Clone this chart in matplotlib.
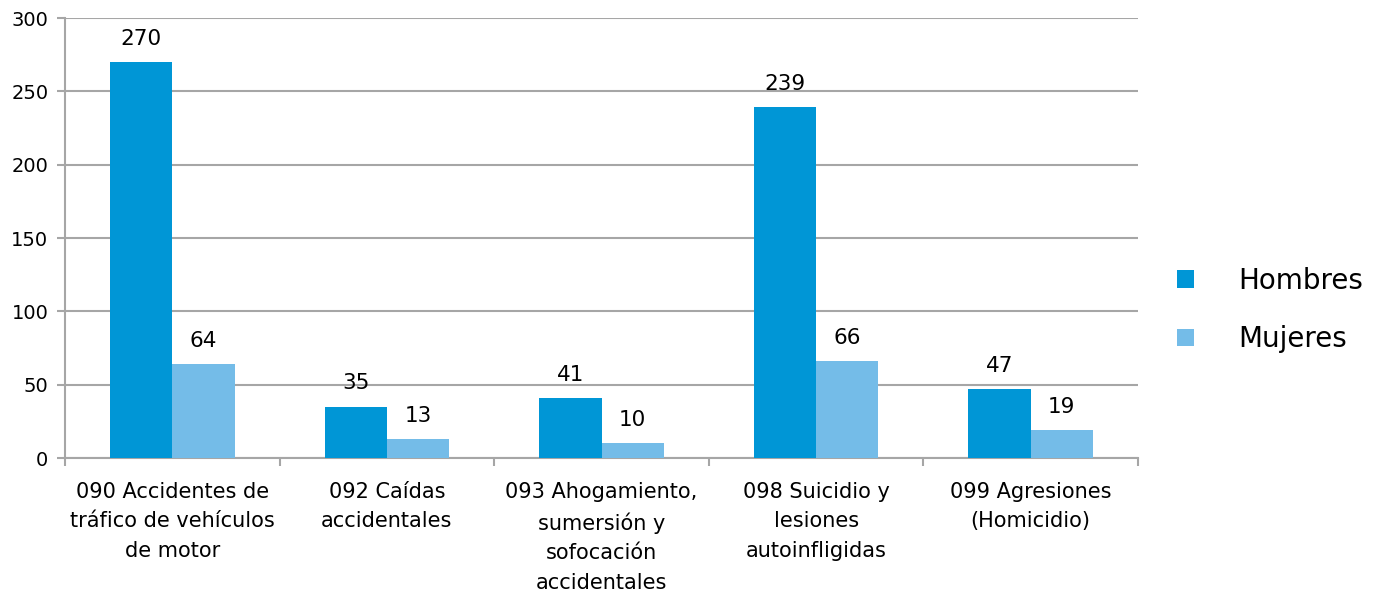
import numpy as np
import matplotlib.pyplot as plt

categories = ['090 Accidentes de\ntráfico de vehículos\nde motor',
              '092 Caídas\naccidentales',
              '093 Ahogamiento,\nsumersión y\nsofocación\naccidentales',
              '098 Suicidio y\nlesiones\nautoinfligidas',
              '099 Agresiones\n(Homicidio)']
hombres = [270, 35, 41, 239, 47]
mujeres = [64, 13, 10, 66, 19]
yticks = [0, 50, 100, 150, 200, 250, 300]

c_h = '#0096D6'
c_m = '#74BCE8'
grid_c = '#A6A6A6'

plt.rcParams['font.family'] = ['DejaVu Sans']

fig = plt.figure(figsize=(13.79, 5.98), dpi=100)
ax = fig.add_axes([65 / 1379, 1 - 458 / 598, (1138 - 65) / 1379, 440 / 598])

x = np.arange(len(categories))
w = 0.29
ax.bar(x - w / 2, hombres, w, color=c_h, label='Hombres', zorder=3)
ax.bar(x + w / 2, mujeres, w, color=c_m, label='Mujeres', zorder=3)

for xi, v in zip(x, hombres):
    ax.text(xi - w / 2, v + 9, str(v), ha='center', va='bottom', fontsize=15.5)
for xi, v in zip(x, mujeres):
    ax.text(xi + w / 2, v + 9, str(v), ha='center', va='bottom', fontsize=15.5)

ax.set_xlim(-0.5, len(categories) - 0.5)
ax.set_ylim(0, 300)
ax.set_yticks(yticks)
ax.set_yticklabels([str(t) for t in yticks], fontsize=14)
ax.yaxis.grid(True, color=grid_c, linewidth=1.5, zorder=0)

ax.set_xticks(np.arange(-0.5, len(categories)), minor=False)
ax.set_xticklabels([])
ax.set_xticks(x, minor=True)
ax.set_xticklabels(categories, minor=True, fontsize=15, linespacing=1.6, va='top')
ax.tick_params(axis='x', which='minor', length=0, pad=17)
ax.tick_params(axis='x', which='major', length=6, width=1.5, color=grid_c)
ax.tick_params(axis='y', length=6, width=1.5, color=grid_c, pad=6)

for s in ['top', 'right']:
    ax.spines[s].set_visible(False)
for s in ['left', 'bottom']:
    ax.spines[s].set_color(grid_c)
    ax.spines[s].set_linewidth(1.5)

leg = fig.legend(loc='center left', bbox_to_anchor=(1152 / 1379, 1 - 310 / 598),
                 frameon=False, fontsize=20, handlelength=0.6, handleheight=0.6,
                 labelspacing=1.1, handletextpad=1.6)

fig.savefig('out.png', dpi=100)
